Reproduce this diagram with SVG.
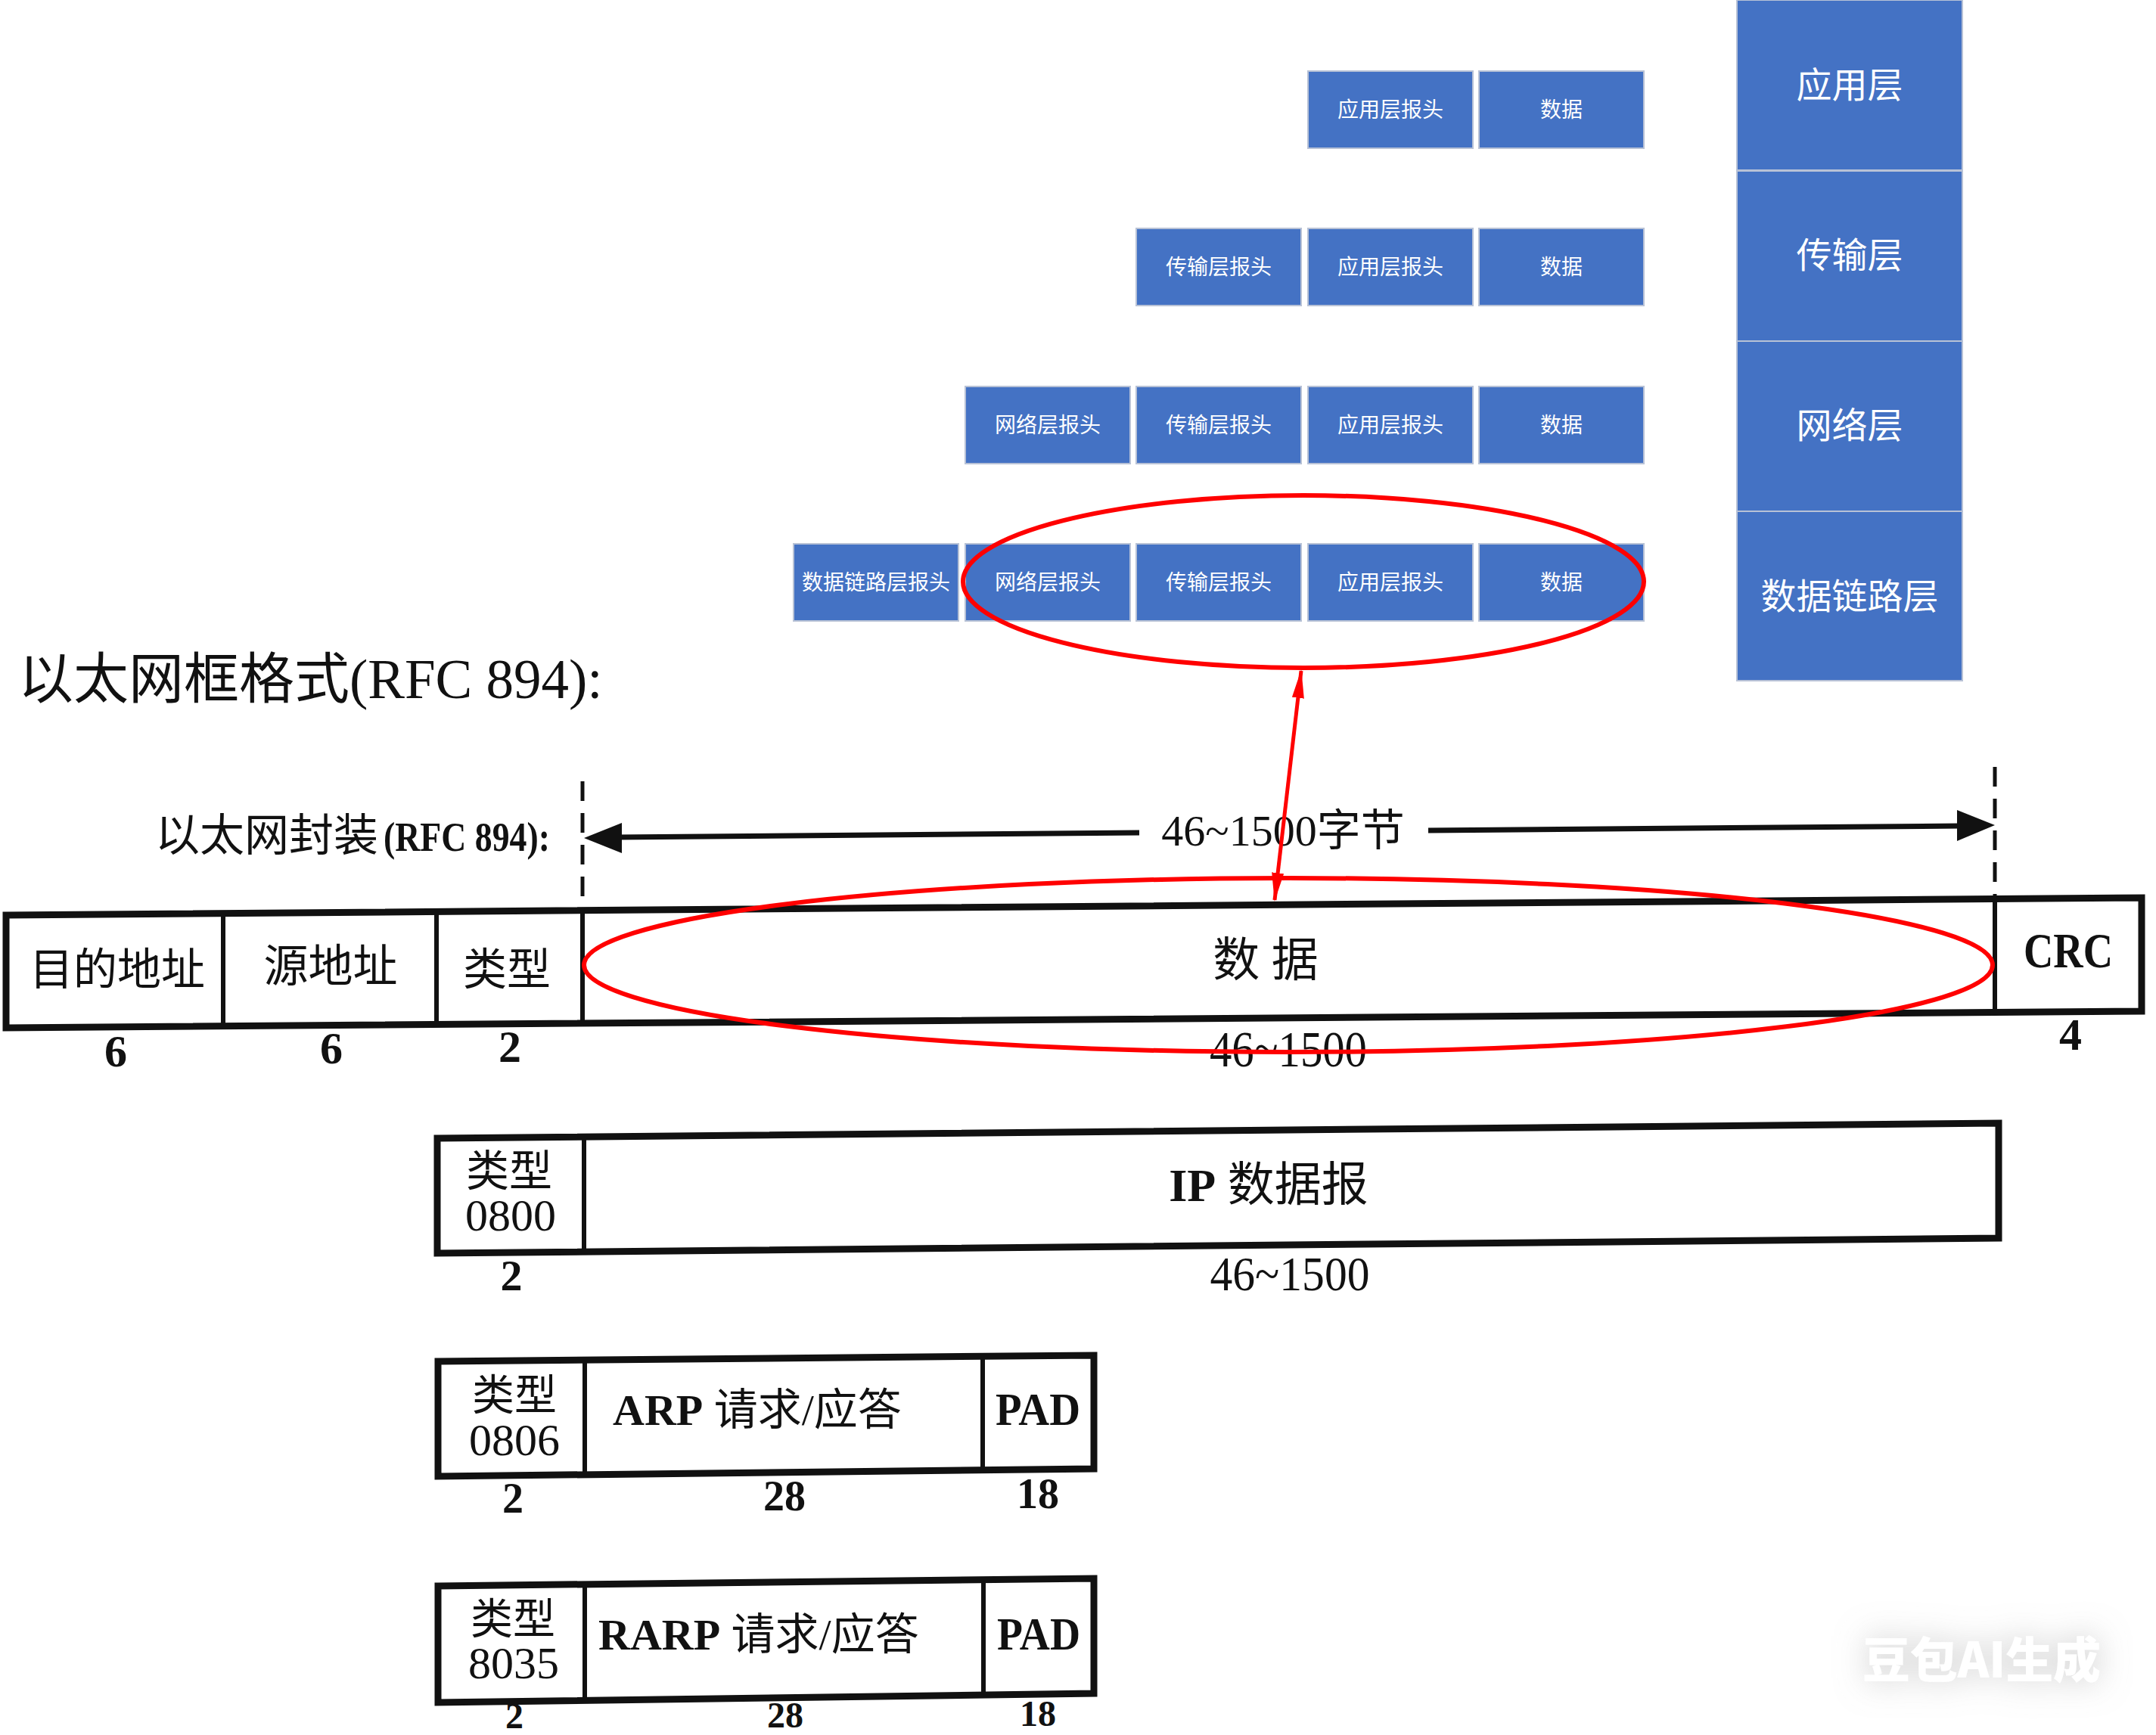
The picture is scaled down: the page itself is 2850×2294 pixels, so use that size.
<svg xmlns="http://www.w3.org/2000/svg" width="2850" height="2294" viewBox="0 0 2850 2294">
<style>
.blk{fill:#4472C4;stroke:#b8c2d6;stroke-width:2}
.wt{font-family:"Noto Sans CJK SC","Noto Sans",sans-serif;fill:#fff;text-anchor:middle;dominant-baseline:central}
.s28{font-size:28px}
.s47{font-size:47px}
.ser{font-family:"Liberation Serif","Noto Sans CJK SC",serif;fill:#111}
.mid{text-anchor:middle}
.b{font-weight:bold}
.frame{fill:#fff;stroke:#111;stroke-width:9;stroke-linejoin:miter}
.div{stroke:#111;stroke-width:6;fill:none}
.dash{stroke:#111;stroke-width:5;stroke-dasharray:26 16;fill:none}
.blkline{stroke:#111;stroke-width:7;fill:none}
.red{stroke:#f00;fill:none;stroke-width:6}
</style>
<defs>
<marker id="redhead" markerUnits="userSpaceOnUse" markerWidth="38" markerHeight="18" refX="36" refY="9" orient="auto-start-reverse" viewBox="0 0 38 18">
<path d="M0,1 L38,9 L0,17 Z" fill="#f00"/>
</marker>
<filter id="glow" x="-40%" y="-80%" width="180%" height="260%">
<feFlood flood-color="#9a9a9a" flood-opacity="0.55" result="f"/>
<feComposite in="f" in2="SourceAlpha" operator="in" result="c"/>
<feGaussianBlur in="c" stdDeviation="22" result="bl"/>
<feMerge><feMergeNode in="bl"/><feMergeNode in="SourceGraphic"/></feMerge>
</filter>
</defs>
<rect width="2850" height="2294" fill="#fff"/>

<!-- layer column -->
<g id="layer-app"><rect class="blk" x="2296" y="0" width="298" height="225"/><text class="wt s47" x="2445" y="108">应用层</text></g>
<g id="layer-trans"><rect class="blk" x="2296" y="226" width="298" height="225"/><text class="wt s47" x="2445" y="333">传输层</text></g>
<g id="layer-net"><rect class="blk" x="2296" y="451" width="298" height="225"/><text class="wt s47" x="2445" y="558">网络层</text></g>
<g id="layer-link"><rect class="blk" x="2296" y="676" width="298" height="224"/><text class="wt s47" x="2445" y="784">数据链路层</text></g>

<!-- encapsulation rows -->
<g id="row1">
<rect class="blk" x="1729" y="94" width="218" height="102"/><text class="wt s28" x="1838" y="143">应用层报头</text>
<rect class="blk" x="1955" y="94" width="218" height="102"/><text class="wt s28" x="2064" y="143">数据</text>
</g>
<g id="row2">
<rect class="blk" x="1502" y="302" width="218" height="102"/><text class="wt s28" x="1611" y="351">传输层报头</text>
<rect class="blk" x="1729" y="302" width="218" height="102"/><text class="wt s28" x="1838" y="351">应用层报头</text>
<rect class="blk" x="1955" y="302" width="218" height="102"/><text class="wt s28" x="2064" y="351">数据</text>
</g>
<g id="row3">
<rect class="blk" x="1276" y="511" width="218" height="102"/><text class="wt s28" x="1385" y="560">网络层报头</text>
<rect class="blk" x="1502" y="511" width="218" height="102"/><text class="wt s28" x="1611" y="560">传输层报头</text>
<rect class="blk" x="1729" y="511" width="218" height="102"/><text class="wt s28" x="1838" y="560">应用层报头</text>
<rect class="blk" x="1955" y="511" width="218" height="102"/><text class="wt s28" x="2064" y="560">数据</text>
</g>
<g id="row4">
<rect class="blk" x="1049" y="719" width="218" height="102"/><text class="wt s28" x="1158" y="768">数据链路层报头</text>
<rect class="blk" x="1276" y="719" width="218" height="102"/><text class="wt s28" x="1385" y="768">网络层报头</text>
<rect class="blk" x="1502" y="719" width="218" height="102"/><text class="wt s28" x="1611" y="768">传输层报头</text>
<rect class="blk" x="1729" y="719" width="218" height="102"/><text class="wt s28" x="1838" y="768">应用层报头</text>
<rect class="blk" x="1955" y="719" width="218" height="102"/><text class="wt s28" x="2064" y="768">数据</text>
</g>

<!-- titles -->
<g id="title">
<text class="ser" x="24" y="923" font-size="73">以太网框格式(RFC 894):</text>
</g>
<g id="encap-label">
<text class="ser" x="205" y="1125" font-size="59">以太网封装</text>
<text class="ser b" x="507" y="1125" font-size="54" textLength="220" lengthAdjust="spacingAndGlyphs">(RFC 894):</text>
</g>

<!-- ethernet frame -->
<g id="eth-frame">
<polygon class="frame" points="8,1210 2831,1187 2831,1337 8,1359"/>
<line class="div" x1="295" y1="1208" x2="295" y2="1357"/>
<line class="div" x1="577" y1="1205" x2="577" y2="1355"/>
<line class="div" x1="770" y1="1204" x2="770" y2="1353"/>
<line class="div" x1="2637" y1="1189" x2="2637" y2="1338"/>
<text class="ser mid" x="155" y="1282" font-size="58" dominant-baseline="central">目的地址</text>
<text class="ser mid" x="437" y="1278" font-size="59" dominant-baseline="central">源地址</text>
<text class="ser mid" x="670" y="1282" font-size="58" dominant-baseline="central">类型</text>
<text class="ser mid" x="1673" y="1270" font-size="62" dominant-baseline="central">数 据</text>
<text class="ser mid b" x="2734" y="1279" font-size="66" textLength="118" lengthAdjust="spacingAndGlyphs">CRC</text>
<text class="ser mid b" x="153" y="1410" font-size="60">6</text>
<text class="ser mid b" x="438" y="1406" font-size="60">6</text>
<text class="ser mid b" x="674" y="1404" font-size="60">2</text>
<text class="ser mid" x="1703" y="1410" font-size="68" textLength="208" lengthAdjust="spacingAndGlyphs">46~1500</text>
<text class="ser mid b" x="2737" y="1388" font-size="60">4</text>
</g>

<!-- IP datagram -->
<g id="ip-frame">
<polygon class="frame" points="578,1505 2642,1485 2642,1637 578,1657"/>
<line class="div" x1="772" y1="1503" x2="772" y2="1655"/>
<text class="ser mid" x="673" y="1548" font-size="57" dominant-baseline="central">类型</text>
<text class="ser mid" x="675" y="1627" font-size="60">0800</text>
<text class="ser mid" x="1677" y="1567" font-size="62" dominant-baseline="central"><tspan class="b">IP</tspan> 数据报</text>
<text class="ser mid b" x="676" y="1706" font-size="58">2</text>
<text class="ser mid" x="1705" y="1706" font-size="64" textLength="211" lengthAdjust="spacingAndGlyphs">46~1500</text>
</g>

<!-- ARP -->
<g id="arp-frame">
<polygon class="frame" points="579,1800 1446,1792 1446,1942 579,1952"/>
<line class="div" x1="773" y1="1798" x2="773" y2="1950"/>
<line class="div" x1="1299" y1="1793" x2="1299" y2="1944"/>
<text class="ser mid" x="680" y="1845" font-size="56" dominant-baseline="central">类型</text>
<text class="ser mid" x="680" y="1924" font-size="60">0806</text>
<text class="ser" x="810" y="1884" font-size="58"><tspan class="b">ARP</tspan> 请求/应答</text>
<text class="ser mid b" x="1372" y="1884" font-size="62" textLength="112" lengthAdjust="spacingAndGlyphs">PAD</text>
<text class="ser mid b" x="678" y="2000" font-size="56">2</text>
<text class="ser mid b" x="1037" y="1997" font-size="56">28</text>
<text class="ser mid b" x="1372" y="1994" font-size="56">18</text>
</g>

<!-- RARP -->
<g id="rarp-frame">
<polygon class="frame" points="579,2097 1446,2087 1446,2239 579,2251"/>
<line class="div" x1="773" y1="2095" x2="773" y2="2249"/>
<line class="div" x1="1300" y1="2089" x2="1300" y2="2241"/>
<text class="ser mid" x="678" y="2141" font-size="56" dominant-baseline="central">类型</text>
<text class="ser mid" x="679" y="2219" font-size="60">8035</text>
<text class="ser" x="791" y="2181" font-size="58"><tspan class="b">RARP</tspan> 请求/应答</text>
<text class="ser mid b" x="1373" y="2181" font-size="62" textLength="110" lengthAdjust="spacingAndGlyphs">PAD</text>
<text class="ser mid b" x="680" y="2285" font-size="48">2</text>
<text class="ser mid b" x="1038" y="2284" font-size="48">28</text>
<text class="ser mid b" x="1372" y="2282" font-size="48">18</text>
</g>

<!-- connectors -->
<g id="connectors">
<line class="dash" x1="770" y1="1033" x2="770" y2="1204"/>
<line class="dash" x1="2637" y1="1014" x2="2637" y2="1189"/>
<line class="blkline" x1="815" y1="1107" x2="1506" y2="1101"/>
<line class="blkline" x1="1888" y1="1098" x2="2592" y2="1092"/>
<polygon points="772,1108 822,1088 822,1128" fill="#111"/>
<polygon points="2637,1091 2587,1071 2587,1112" fill="#111"/>
<text class="ser mid" x="1696" y="1118" font-size="58">46~1500字节</text>
<ellipse class="red" cx="1723" cy="769" rx="450" ry="114"/>
<ellipse class="red" cx="1703" cy="1276" rx="931" ry="115"/>
<line stroke="#f00" stroke-width="5" x1="1720" y1="887" x2="1685" y2="1190" marker-start="url(#redhead)" marker-end="url(#redhead)"/>
</g>

<!-- watermark -->
<g id="watermark" filter="url(#glow)">
<text x="2462" y="2218" font-family="Noto Sans CJK SC,sans-serif" font-weight="900" font-size="64" fill="#fff" textLength="315" lengthAdjust="spacingAndGlyphs">豆包AI生成</text>
</g>
</svg>
